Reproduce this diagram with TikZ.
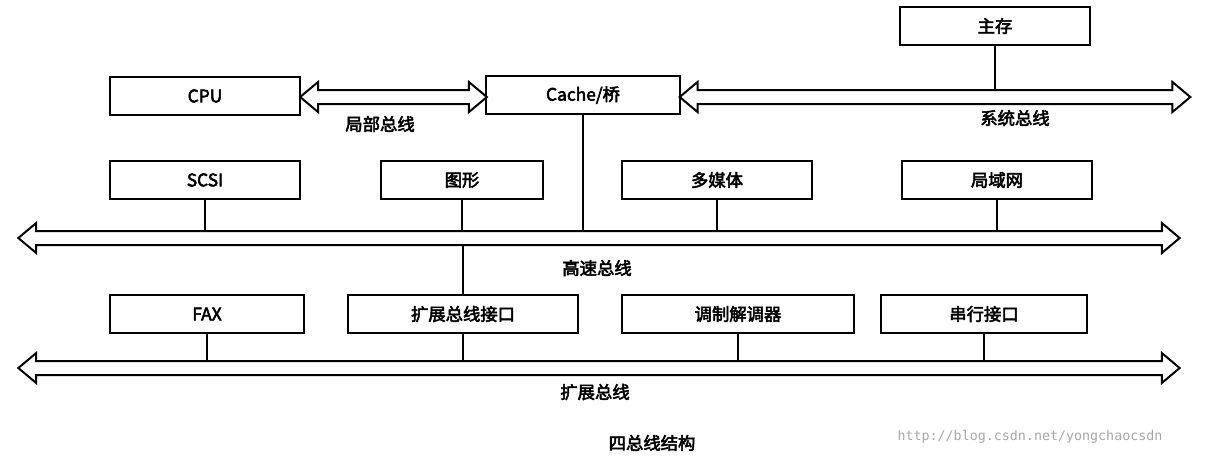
\documentclass[tikz,border=0pt]{standalone}
\usepackage{fontspec}
\setmainfont{Noto Sans CJK SC}[AutoFakeBold=3]
\newfontfamily\wmfont{DejaVu Sans Mono}
\usetikzlibrary{shapes.arrows}

\tikzset{
  unit/.style={draw, line width=1.5pt, minimum width=#1, minimum height=29pt, inner sep=0pt, font=\fontsize{13}{15}\selectfont\bfseries},
  bus/.style={draw, line width=1.5pt, double arrow, inner sep=4.5pt, double arrow head extend=6pt, double arrow tip angle=80, minimum height=#1},
  link/.style={line width=1.5pt},
  buslabel/.style={font=\fontsize{13}{15}\selectfont\bfseries}
}

\begin{document}
\begin{tikzpicture}[x=0.75pt,y=-0.75pt]
  \useasboundingbox (0,0) rectangle (1207,455);
  % top row
  \node[unit=142pt] (mem) at (995,26) {主存};
  \node[unit=142pt] (cpu) at (205,96) {CPU};
  \node[unit=145pt] (cache) at (583,95) {Cache/桥};
  \node[bus=140pt] (localbus) at (393.5,97) {};
  \node[bus=383pt] (sysbus) at (935,97) {};
  \node[buslabel] (locallbl) at (380,124) {局部总线};
  \node[buslabel] (syslbl) at (1015,118) {系统总线};
  \draw[link] (mem) -- (mem |- sysbus.north);
  % high speed bus
  \node[unit=142pt] (scsi) at (205,180) {SCSI};
  \node[unit=121pt] (gfx) at (462,180) {图形};
  \node[unit=142pt] (media) at (717,180) {多媒体};
  \node[unit=142pt] (lan) at (997,180) {局域网};
  \node[bus=871pt] (hsbus) at (599,238) {};
  \node[buslabel] (hslbl) at (597,268) {高速总线};
  \draw[link] (cache) -- (cache |- hsbus.north);
  \foreach \n in {scsi,gfx,media,lan}
    \draw[link] (\n) -- (\n |- hsbus.north);
  % expansion bus
  \node[unit=146pt] (fax) at (207,314) {FAX};
  \node[unit=172pt] (ebi) at (463,314) {扩展总线接口};
  \node[unit=174pt] (modem) at (738,314) {调制解调器};
  \node[unit=154pt] (serial) at (984,314) {串行接口};
  \node[bus=871pt] (exbus) at (599,368) {};
  \node[buslabel] (exlbl) at (595,392) {扩展总线};
  \draw[link] (ebi) -- (ebi |- hsbus.south);
  \foreach \n in {fax,ebi,modem,serial}
    \draw[link] (\n) -- (\n |- exbus.north);
  % caption
  \node[font=\fontsize{13}{15}\selectfont\bfseries] (caption) at (652,443) {四总线结构};
  \node[font=\wmfont\fontsize{10}{12}\selectfont, text=gray!70] (wm) at (1030,437) {http://blog.csdn.net/yongchaocsdn};
\end{tikzpicture}
\end{document}
